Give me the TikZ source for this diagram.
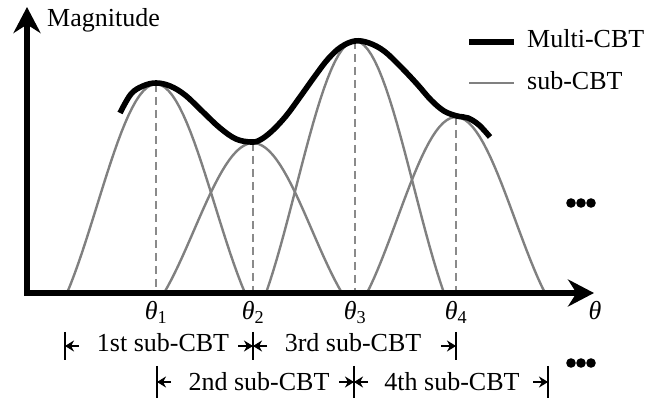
\documentclass[tikz,border=0pt]{standalone}
\usepackage{fontspec}
\setmainfont{Liberation Serif}
\usetikzlibrary{arrows.meta}
\definecolor{cbtSub}{HTML}{808080}
\definecolor{cbtGuia}{HTML}{8a8a8a}
\newcommand{\thetaidx}[1]{\textit{θ}\textsubscript{#1}}

\begin{document}
\begin{tikzpicture}[x=1pt, y=-1pt,
  font=\fontsize{26}{30}\selectfont,
  subcbt/.style={draw=cbtSub, line width=2.4pt},
  multicbt/.style={draw=black, line width=5.6pt},
  guia/.style={draw=cbtGuia, line width=2.6pt, dash pattern=on 8pt off 5pt},
  eje/.style={line width=5.5pt, {Stealth[length=26pt, width=27pt]}-{Stealth[length=26pt, width=27pt]}},
  cota/.style={line width=2.2pt},
  cotatip/.style={line width=2.2pt, -{Stealth[length=9pt, width=11pt]}},
  lbl/.style={inner sep=0pt, anchor=base},
]
  \useasboundingbox (0,0) rectangle (662,398);

  % Lobulos sub-CBT con sus lineas guia
  \foreach \i/\c/\a in {1/156/209, 2/253/150, 3/355/252, 4/456/176} {
    \draw[subcbt] plot[domain=-1:1, samples=50, variable=\t]
      ({\c+89*\t}, {293-\a*sin(180*\t)/(pi*\t)});
    \coordinate (pk\i) at (\c,293-\a);
    \coordinate (ft\i) at (\c,293);
    \draw[guia] (pk\i) -- (ft\i);
    \node[lbl] (th\i) at (\c,320) {\thetaidx{\i}};
  }

  % Envolvente Multi-CBT
  \draw[multicbt, line cap=butt] plot[smooth, tension=0.6] coordinates {
    (120,113) (131,94) (143,86) (156,83) (170,86) (185,95) (203,112)
    (220,128) (236,139) (251,142) (260,140) (272,131) (286,116) (300,97)
    (315,76) (328,59) (341,47) (355,41) (369,43) (384,51) (400,66)
    (417,84) (431,100) (444,111) (457,116) (468,118) (479,125) (490,137)};

  % Ejes
  \coordinate (origen) at (27,293);
  \coordinate (ytip) at (27,7);
  \coordinate (xtip) at (594,293);
  \draw[eje] (ytip) -- (origen) -- (xtip);
  \node[lbl, anchor=base west] (mag) at (47,27) {Magnitude};
  \node[lbl] (theta) at (595,320) {\textit{θ}};

  % Leyenda
  \coordinate (lm1) at (469,42);
  \coordinate (lm2) at (514,42);
  \coordinate (ls1) at (469,83);
  \coordinate (ls2) at (514,83);
  \draw[multicbt] (lm1) -- (lm2);
  \draw[subcbt] (ls1) -- (ls2);
  \node[lbl, anchor=base west] (legm) at (527,48) {Multi-CBT};
  \node[lbl, anchor=base west] (legs) at (527,90) {sub-CBT};

  % Cotas de cada sub-CBT (fila 1 y fila 2)
  \coordinate (r1a) at (65,346);
  \coordinate (r1b) at (253,346);
  \coordinate (r1c) at (456,346);
  \coordinate (r2a) at (157,382);
  \coordinate (r2b) at (354,382);
  \coordinate (r2c) at (548,382);
  \foreach \p in {r1a,r1b,r1c} \draw[cota] ([yshift=14pt]\p) -- ([yshift=-14pt]\p);
  \foreach \p in {r2a,r2b,r2c} \draw[cota] ([yshift=16pt]\p) -- ([yshift=-16pt]\p);
  \foreach \p in {r1a,r1b,r2a,r2b} \draw[cotatip] ([xshift=14pt]\p) -- (\p);
  \foreach \p in {r1b,r1c,r2b,r2c} \draw[cotatip] ([xshift=-15pt]\p) -- (\p);
  \node[lbl] (s1) at (163,352) {1st sub-CBT};
  \node[lbl] (s3) at (353,352) {3rd sub-CBT};
  \node[lbl] (s2) at (259,390) {2nd sub-CBT};
  \node[lbl] (s4) at (452,390) {4th sub-CBT};

  % Puntos suspensivos
  \foreach \dx in {-10,0,10} {
    \fill (581+\dx,203) circle (4.8pt);
    \fill (581+\dx,363) circle (4.8pt);
  }
\end{tikzpicture}
\end{document}
